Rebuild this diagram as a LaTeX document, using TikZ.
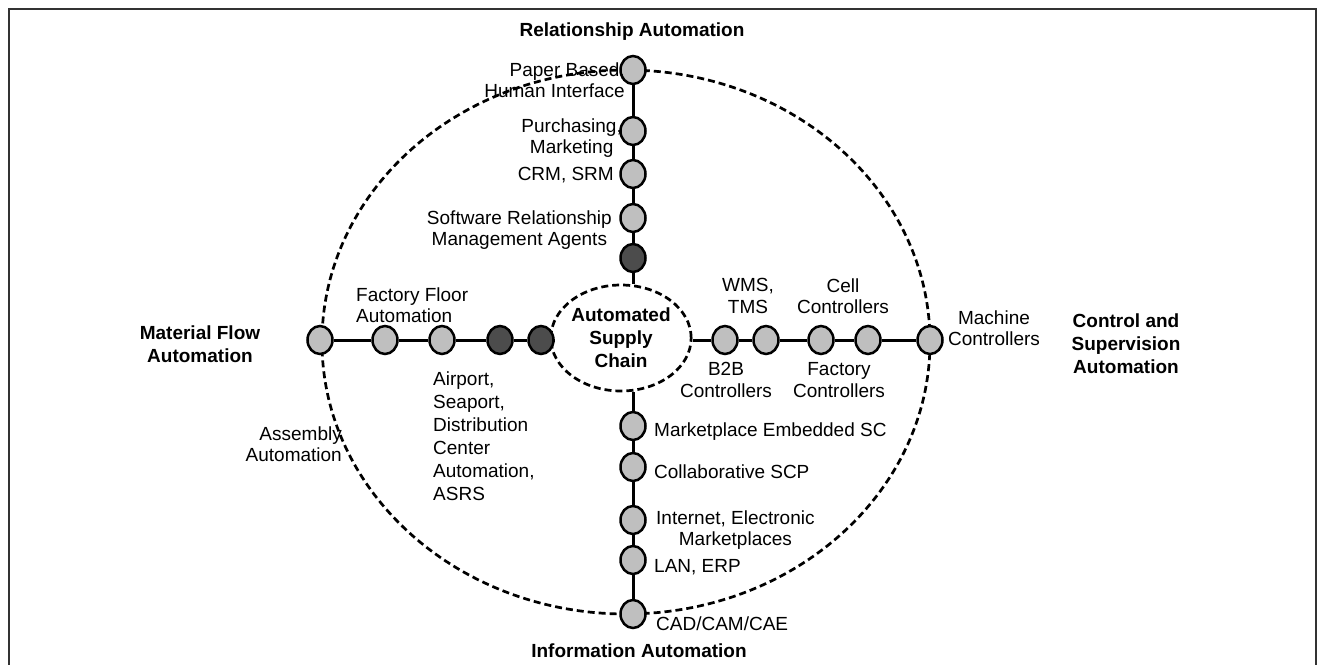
\documentclass[tikz,border=0pt]{standalone}
\usepackage{fontspec}
\setmainfont{Liberation Sans}
\usetikzlibrary{shapes.geometric,backgrounds}

\begin{document}
\begin{tikzpicture}[x=1pt, y=-1pt,
    dot/.style={ellipse, draw=black, line width=2.5pt, fill=black!25, minimum width=25pt, minimum height=28pt, inner sep=0pt},
    darkdot/.style={dot, fill=black!70},
    axis/.style={line width=3pt, black},
    ring/.style={line width=2.7pt, dash pattern=on 7pt off 4pt},
    lbl/.style={font=\fontsize{19}{21.5}\selectfont, inner sep=0pt},
    title/.style={lbl, font=\fontsize{19}{23}\selectfont\bfseries, align=center},
]
\useasboundingbox (0,0) rectangle (1325,664);
\draw[line width=1.6pt, black!80] (9,720) -- (9,9) -- (1316,9) -- (1316,720);

% outer boundary
\draw[ring] (626,342) ellipse [x radius=304pt, y radius=272pt];

% hub
\node[ellipse, draw, ring, title, minimum width=122pt, minimum height=106pt] (asc) at (621,338) {Automated\\Supply\\Chain};

% relationship axis
\node[dot] (r1) at (633,70) {};
\node[dot] (r2) at (633,131) {};
\node[dot] (r3) at (633,174) {};
\node[dot] (r4) at (633,218) {};
\node[darkdot] (r5) at (633,258) {};

% information axis
\node[dot] (i1) at (633,426) {};
\node[dot] (i2) at (633,467) {};
\node[dot] (i3) at (633,520) {};
\node[dot] (i4) at (633,560) {};
\node[dot] (i5) at (633,614) {};

% material flow axis
\node[dot] (m1) at (320,340) {};
\node[dot] (m2) at (385,340) {};
\node[dot] (m3) at (442,340) {};
\node[darkdot] (m4) at (500,340) {};
\node[darkdot] (m5) at (541,340) {};

% control axis
\node[dot] (c1) at (725,340) {};
\node[dot] (c2) at (766,340) {};
\node[dot] (c3) at (821,340) {};
\node[dot] (c4) at (868,340) {};
\node[dot] (c5) at (930,340) {};

\begin{scope}[on background layer]
\draw[axis] (r1) -- (r2) -- (r3) -- (r4) -- (r5) -- (r5 |- asc.north);
\draw[axis] (i1 |- asc.south) -- (i1) -- (i2) -- (i3) -- (i4) -- (i5);
\draw[axis] (m1) -- (m2) -- (m3) -- (m4) -- (m5) -- (m5 -| asc.west);
\draw[axis] (c1 -| asc.east) -- (c1) -- (c2) -- (c3) -- (c4) -- (c5);
\end{scope}

% titles
\node[title] (trel) at (632,32) {Relationship Automation};
\node[title] (tmat) at (200,344) {Material Flow\\Automation};
\node[title] (tctrl) at (1126,344) {Control and\\Supervision\\Automation};
\node[title] (tinf) at (639,651) {Information Automation};

% labels
\node[lbl, anchor=east, align=right] (tpaper) at (625,80) {Paper Based,\\Human Interface};
\node[lbl, anchor=east, align=center] (tpurch) at (622,138) {Purchasing,\\Marketing};
\node[lbl, anchor=east] (tcrm) at (614,175) {CRM, SRM};
\node[lbl, anchor=east, align=center] (tsoft) at (612,230) {Software Relationship\\Management Agents};
\node[lbl, anchor=west, align=left] (tfloor) at (356,305) {Factory Floor\\Automation};
\node[lbl, anchor=north west, align=left, font=\fontsize{19}{23}\selectfont] (tport) at (433,372) {Airport,\\Seaport,\\Distribution\\Center\\Automation,\\ASRS};
\node[lbl, anchor=east, align=right] (tassem) at (342,444) {Assembly\\Automation};
\node[lbl, align=center] (twms) at (748,296) {WMS,\\TMS};
\node[lbl, align=center] (tcell) at (843,296) {Cell\\Controllers};
\node[lbl, align=center] (tb2b) at (726,380) {B2B\\Controllers};
\node[lbl, align=center] (tfact) at (839,380) {Factory\\Controllers};
\node[lbl, align=center] (tmach) at (994,328) {Machine\\Controllers};
\node[lbl, anchor=west] (tmkt) at (654,432) {Marketplace Embedded SC};
\node[lbl, anchor=west] (tcollab) at (654,472) {Collaborative SCP};
\node[lbl, anchor=west, align=center] (tnet) at (656,530) {Internet, Electronic\\Marketplaces};
\node[lbl, anchor=west] (tlan) at (654,567) {LAN, ERP};
\node[lbl, anchor=west] (tcad) at (656,624) {CAD/CAM/CAE};
\end{tikzpicture}
\end{document}
